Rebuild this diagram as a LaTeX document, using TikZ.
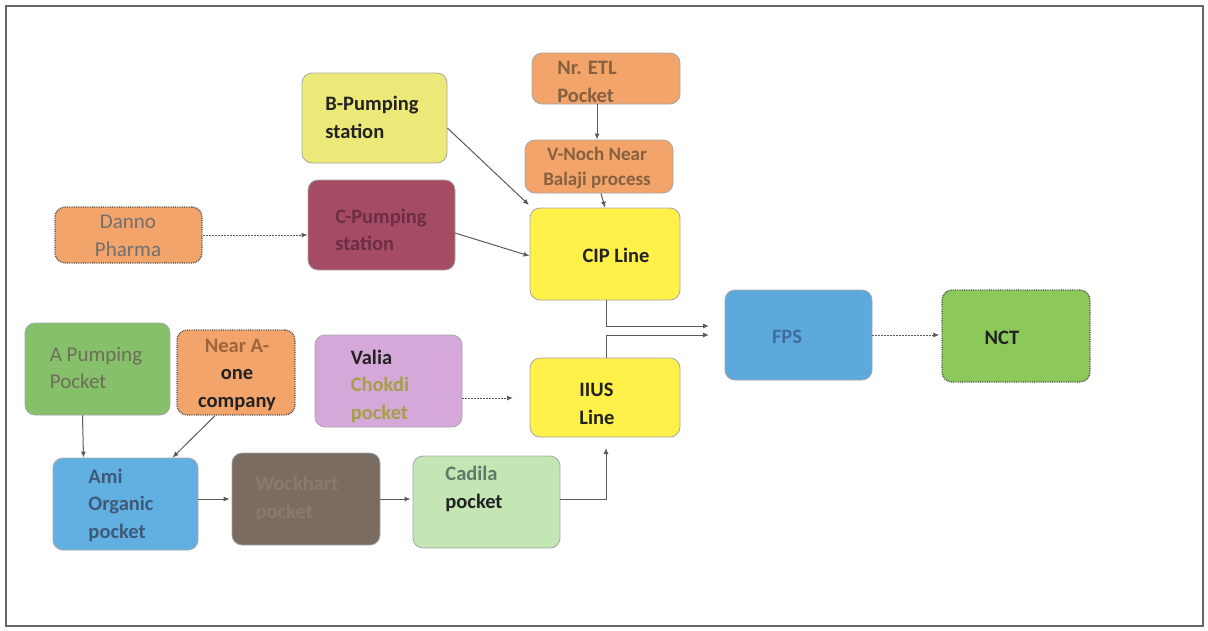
\documentclass[tikz,border=0pt]{standalone}
\usepackage{fontspec}
\setmainfont{Carlito}
\usetikzlibrary{arrows.meta}
\definecolor{cYelB}{HTML}{EDE978}
\definecolor{cOra}{HTML}{F2A46A}
\definecolor{cMar}{HTML}{A54C64}
\definecolor{cYelL}{HTML}{FFF04A}
\definecolor{cBlueF}{HTML}{5DA9DD}
\definecolor{cGreenN}{HTML}{8DC85A}
\definecolor{cGreenA}{HTML}{86C06A}
\definecolor{cLav}{HTML}{D6A8DA}
\definecolor{cBlueA}{HTML}{62B0E2}
\definecolor{cBrown}{HTML}{7B6C62}
\definecolor{cPale}{HTML}{C4E6B4}
\definecolor{tDark}{HTML}{222222}
\definecolor{tOra}{HTML}{86603F}
\definecolor{tMar}{HTML}{6B2E42}
\definecolor{tGray}{HTML}{707070}
\definecolor{tBlue}{HTML}{3F6E9C}
\definecolor{tOlive}{HTML}{6E6E5A}
\definecolor{tNear}{HTML}{A0643A}
\definecolor{tChok}{HTML}{A4A048}
\definecolor{tAmi}{HTML}{3E5A78}
\definecolor{tWock}{HTML}{8A7A6E}
\definecolor{tCad}{HTML}{5E7A6A}
\definecolor{cLine}{HTML}{5A5A5A}
\begin{document}
\begin{tikzpicture}[x=1pt,y=-1pt,
  box/.style={draw=gray!70, line width=0.8pt, rounded corners=10pt, inner sep=0pt},
  dotbox/.style={box, draw=black!70, densely dotted, line width=1.4pt},
  txt/.style={font=\fontsize{20.5}{27.5}\selectfont\bfseries, inner sep=0pt, align=left},
  txtr/.style={txt, font=\fontsize{21}{27.5}\selectfont},
  txtc/.style={txt, align=center},
  conn/.style={draw=cLine, line width=1pt, -{Latex[length=6pt,width=5pt]}},
  dconn/.style={conn, dash pattern=on 2pt off 1pt}]
\useasboundingbox (0,0) rectangle (1208,630);
\draw[gray!80!black, line width=1.6pt] (6,6) rectangle (1203,626);

% boxes
\node[box, fill=cYelB, minimum width=145pt, minimum height=90pt] (bp) at (374.5,118) {};
\node[box, fill=cOra, minimum width=148pt, minimum height=51pt] (etl) at (606,78.5) {};
\node[box, fill=cOra, minimum width=148pt, minimum height=53pt] (vn) at (599,166.5) {};
\node[box, fill=cMar, minimum width=147pt, minimum height=90pt] (cp) at (381.5,225) {};
\node[dotbox, fill=cOra, minimum width=147pt, minimum height=56pt] (dan) at (128.5,235) {};
\node[box, fill=cYelL, minimum width=150pt, minimum height=92pt] (cip) at (605,254) {};
\node[box, fill=cBlueF, minimum width=147pt, minimum height=90pt] (fps) at (798.5,335) {};
\node[dotbox, fill=cGreenN, minimum width=148pt, minimum height=92pt] (nct) at (1016,336) {};
\node[box, fill=cGreenA, minimum width=145pt, minimum height=92pt] (ap) at (97.5,369) {};
\node[dotbox, fill=cOra, minimum width=118pt, minimum height=85pt] (na) at (236,372.5) {};
\node[box, fill=cLav, minimum width=147pt, minimum height=92pt] (val) at (388.5,381) {};
\node[box, fill=cYelL, minimum width=150pt, minimum height=79pt] (iius) at (605,397.5) {};
\node[box, fill=cBlueA, minimum width=145pt, minimum height=92pt] (ami) at (125.5,504) {};
\node[box, fill=cBrown, minimum width=148pt, minimum height=92pt] (wock) at (306,499) {};
\node[box, fill=cPale, minimum width=147pt, minimum height=92pt] (cad) at (486.5,502) {};

% texts
\node[txt, text=tDark] (bpT) at (372,117.5) {B-Pumping\\station};
\node[txt, text=tOra] (etlT) at (587,82) {Nr. ETL\\Pocket};
\node[txtc, text=tOra, font=\fontsize{19}{25}\selectfont\bfseries] (vnT) at (597,167.5) {V-Noch Near\\Balaji process};
\node[txt, text=tMar] (cpT) at (381,230) {C-Pumping\\station};
\node[txtr, align=center, text=tGray] (danT) at (128,236) {Danno\\Pharma};
\node[txt, text=tDark] (cipT) at (616,255) {CIP Line};
\node[txt, text=tBlue] (fpsT) at (787,337) {FPS};
\node[txt, text=tDark] (nctT) at (1002,338) {NCT};
\node[txtr, text=tOlive] (apT) at (96,368) {A Pumping\\Pocket};
\node[txtc, text=tDark] (naT) at (237,374.5) {\textcolor{tNear}{Near A-}\\one\\company};
\node[txt, text=tDark] (valT) at (380,386) {Valia\\\textcolor{tChok}{Chokdi}\\\textcolor{tChok}{pocket}};
\node[txt, text=tDark] (iiusT) at (597,404) {IIUS\\Line};
\node[txt, text=tAmi] (amiT) at (121,505) {Ami\\Organic\\pocket};
\node[txt, text=tWock] (wockT) at (297,499) {Wockhart\\pocket};
\node[txt, text=tDark] (cadT) at (474,489) {\textcolor{tCad}{Cadila}\\pocket};

% connectors
\coordinate (cipIn) at (529,205);
\coordinate (valEnd) at (513,398);
\coordinate (f1) at (709,326);
\coordinate (f2) at (709,335);
\coordinate (cadUp) at (606,448);
\coordinate (cpo) at (455,233);
\draw[dconn] (dan.east) -- (cp.west |- dan.east);
\draw[conn] (cpo) -- ([yshift=-2pt]cip.west);
\draw[conn] ([yshift=-10pt]bp.east) -- (cipIn);
\draw[conn] ([xshift=-9pt]etl.south) -- ([xshift=-2pt]vn.north);
\draw[conn] ([xshift=2pt]vn.south) -- ([xshift=0pt]cip.north);
\draw[conn] ([xshift=1pt]cip.south) |- (f1);
\draw[conn] ([xshift=1pt]iius.north) |- (f2);
\draw[dconn] (fps.east |- f2) -- ([xshift=-2pt]nct.west |- f2);
\draw[dconn] (val.east |- valEnd) -- (valEnd);
\draw[conn] ([xshift=-15pt]ap.south) -- ([xshift=-42pt]ami.north);
\draw[conn] ([xshift=-21pt]na.south) -- ([xshift=47pt]ami.north);
\draw[conn] (ami.east |- wock.east) -- ([xshift=-2pt]wock.west);
\draw[conn] (wock.east) -- ([xshift=-2pt]cad.west |- wock.east);
\draw[conn] (cad.east |- wock.east) -| (cadUp);
\end{tikzpicture}
\end{document}
